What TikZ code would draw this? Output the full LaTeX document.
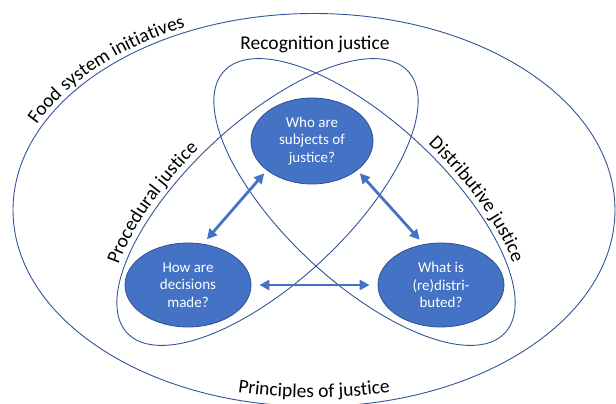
\documentclass[tikz,border=0pt]{standalone}
\usepackage{fontspec}
\setmainfont{Carlito}
\usepackage{xcolor}
\usetikzlibrary{arrows.meta,decorations.text,shapes.geometric}

\definecolor{ringblue}{HTML}{2F5597}
\definecolor{nodeblue}{HTML}{4472C4}
\definecolor{nodeedge}{HTML}{2F528F}
\newcommand{\lblfont}{\fontsize{19.5}{20}\selectfont}

\begin{document}
\begin{tikzpicture}[x=1pt,y=1pt,
    ring/.style={draw=ringblue, line width=0.9pt},
    question/.style={ellipse, fill=nodeblue, draw=nodeedge, line width=0.8pt,
        text=white, align=center, inner sep=0pt,
        font=\fontsize{15}{17.5}\selectfont},
    twoway/.style={{Triangle[length=10pt,width=10pt]}-{Triangle[length=10pt,width=10pt]},
        draw=nodeblue, line width=2.8pt},
    curvelabel/.style={decorate, decoration={text along path, text={|\lblfont|#1}}},
    declare function={
        ringN(\t)=sqrt((\ringB/100*cos(\t))^2+(\ringA/100*sin(\t))^2);
        ringU(\t)=(\ringA+\gap*\ringB/100/ringN(\t))*cos(\t);
        ringW(\t)=(\ringB+\gap*\ringA/100/ringN(\t))*sin(\t);}]
            \useasboundingbox (0,0) rectangle (616,404);

            % Define ring properties
            \def\ringA{192} % long half axis
            \def\ringB{80}  % short half axis
            \def\tilt{43}
            \def\gap{6}     % label distance from ring
            \def\procX{267.5}
            \def\distX{364.5}
            \def\ringY{202}

            % Draw outer ring
            \draw [ring] (314,194) ellipse [x radius=301, y radius=196.5];

            % Draw procedural and distributive rings
            \draw [ring] plot [domain=0:360, samples=120, smooth cycle]
              ({\procX + \ringA*cos(\x)*cos(\tilt) - \ringB*sin(\x)*sin(\tilt)},
               {\ringY + \ringA*cos(\x)*sin(\tilt) + \ringB*sin(\x)*cos(\tilt)});
            \draw [ring] plot [domain=0:360, samples=120, smooth cycle]
              ({\distX + \ringA*cos(\x)*cos(\tilt) + \ringB*sin(\x)*sin(\tilt)},
               {\ringY - \ringA*cos(\x)*sin(\tilt) + \ringB*sin(\x)*cos(\tilt)});

            % Draw questions
            \node [question, minimum width=122pt, minimum height=86pt] (subjects) at (312,263)
              {Who are\\subjects of\\justice?};
            \node [question, minimum width=126pt, minimum height=84pt] (decisions) at (188,119)
              {How are\\decisions\\made?};
            \node [question, minimum width=126pt, minimum height=84pt] (goods) at (441,119)
              {What is\\(re)distri-\\buted?};

            % Draw arrows between questions
            \draw [twoway, shorten <=4pt, shorten >=6pt] (subjects.213) -- (decisions.70);
            \draw [twoway, shorten <=4pt, shorten >=6pt] (subjects.327) -- (goods.113);
            \draw [twoway, shorten <=8pt, shorten >=8pt] (decisions) -- (goods);

            % Label rings
            \node [font=\lblfont, anchor=base] (recognition) at (315,354) {Recognition justice};
            \path [curvelabel={Food system initiatives}]
              plot [domain=155:95, samples=60] ({314 + 306*cos(\x)}, {194 + 201.5*sin(\x)});
            \path [curvelabel={Principles of justice}, decoration={text align=center}]
              plot [domain=245:295, samples=60] ({314 + 330*cos(\x)}, {194 + 187.5*sin(\x)});
            \path [curvelabel={Procedural justice}]
              plot [domain=141:40, samples=80]
              ({\procX + ringU(\x)*cos(\tilt) - ringW(\x)*sin(\tilt)},
               {\ringY + ringU(\x)*sin(\tilt) + ringW(\x)*cos(\tilt)});
            \path [curvelabel={Distributive justice}]
              plot [domain=88:-20, samples=80]
              ({\distX + ringU(\x)*cos(\tilt) + ringW(\x)*sin(\tilt)},
               {\ringY - ringU(\x)*sin(\tilt) + ringW(\x)*cos(\tilt)});

        \end{tikzpicture}
\end{document}
